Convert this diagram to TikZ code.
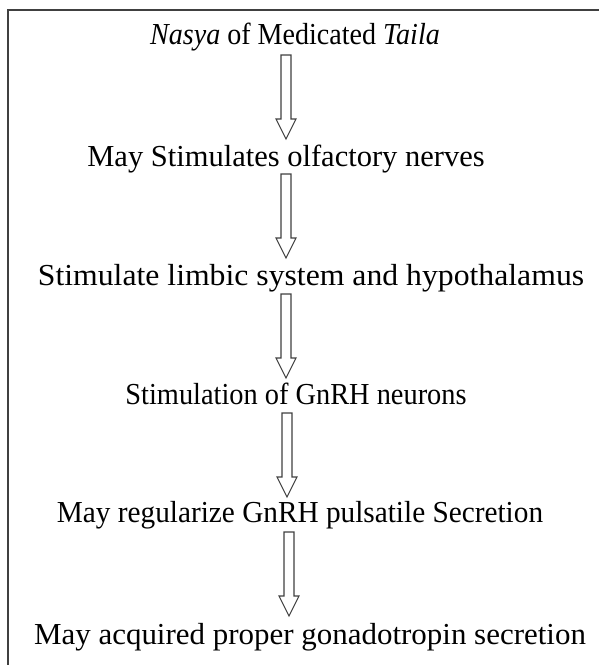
\documentclass[tikz,border=0pt]{standalone}
\usepackage{fontspec}
\usepackage{graphicx}
\setmainfont{Liberation Serif}
\begin{document}
\begin{tikzpicture}[x=1pt,y=-1pt]
\tikzset{
  lbl/.style={font=\fontsize{30.5}{36}\selectfont, inner sep=0pt, anchor=base},
  arrowline/.style={draw=black!75, line width=1.1pt, fill=white, line join=miter},
  frameline/.style={draw=black!75, line width=1.5pt},
  downarrow/.pic={\draw[arrowline] (-5,0) -- (-5,64) -- (-10,64) -- (0,84) -- (10,64) -- (5,64) -- (5,0) -- cycle;}
}
\useasboundingbox (0,0) rectangle (599,665);
\draw[frameline] (8,665) -- (8,10) -- (599,10);

\node[lbl] (t1) at (295,44) {\scalebox{0.92}[1]{\textit{Nasya} of Medicated \textit{Taila}}};
\node[lbl] (t2) at (286,166) {May Stimulates olfactory nerves};
\node[lbl] (t3) at (311,285) {\scalebox{1.04}[1]{Stimulate limbic system and hypothalamus}};
\node[lbl] (t4) at (296,404) {\scalebox{0.93}[1]{Stimulation of GnRH neurons}};
\node[lbl] (t5) at (300,522) {\scalebox{0.96}[1]{May regularize GnRH pulsatile Secretion}};
\node[lbl] (t6) at (310,644) {\scalebox{1.015}[1]{May acquired proper gonadotropin secretion}};

\coordinate (a1) at (286,55);
\coordinate (a2) at (286,174);
\coordinate (a3) at (286,294);
\coordinate (a4) at (287,413);
\coordinate (a5) at (289,532);
\pic at (a1) {downarrow};
\pic at (a2) {downarrow};
\pic at (a3) {downarrow};
\pic at (a4) {downarrow};
\pic at (a5) {downarrow};
\end{tikzpicture}
\end{document}
